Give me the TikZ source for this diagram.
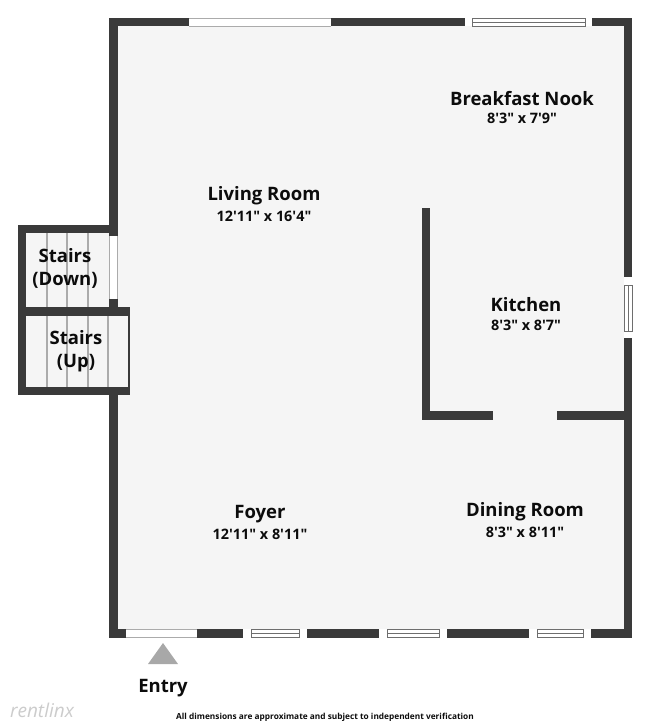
\documentclass[tikz,border=0pt]{standalone}
\usepackage{fontspec}
\newfontfamily\osf{Open Sans}
\definecolor{wallc}{HTML}{3A3A3A}
\definecolor{floorc}{HTML}{F5F5F5}
\definecolor{treadc}{HTML}{ABABAB}
\definecolor{framec}{HTML}{6E6E6E}
\definecolor{inkc}{HTML}{0C0C0C}
\tikzset{
  wall/.style={fill=wallc,draw=none},
  floorpatch/.style={fill=floorc,draw=none},
  opening/.style={fill=white,draw=none},
  tread/.style={draw=treadc,line width=1.1pt},
  sash/.style={draw=framec,line width=1pt,fill=white},
  room/.style={align=center,inner sep=0pt,text=inkc,font=\osf\fontsize{18.5}{23}\selectfont\bfseries},
  dims/.style={inner sep=0pt,text=inkc,font=\osf\fontsize{14.4}{18}\selectfont\bfseries},
}
\begin{document}
\begin{tikzpicture}[x=1pt,y=-1pt]
\useasboundingbox (0,0) rectangle (650,726);
% main shell
\fill[wall] (109,17.5) rectangle (632,638);
\fill[floorpatch] (117.5,26) rectangle (624,629);
% stairs
\fill[wall] (17.5,225) rectangle (117.5,316);
\fill[wall] (17.5,307) rectangle (130,395);
\fill[floorpatch] (26,233) rectangle (109,307);
\fill[floorpatch] (26,316) rectangle (128,387);
\foreach \x in {47,67,88} {
  \draw[tread] (\x,233) -- (\x,307);
  \draw[tread] (\x,316) -- (\x,387);
}
\draw[tread] (108,316) -- (108,387);
\fill[wall] (109,299) rectangle (117.5,307);
\fill[wall] (17.5,307) rectangle (130,316);
% stairs window opening
\fill[opening] (109,236) rectangle (117.5,299);
\draw[draw=treadc,line width=0.8pt] (117.5,236) -- (117.5,299) (109,236) -- (109,299);
% kitchen partition
\fill[wall] (422,208) rectangle (430,420);
\fill[wall] (422,411) rectangle (493,420);
\fill[wall] (557,411) rectangle (624,420);
% top opening
\fill[opening] (189,17.5) rectangle (331,26);
\draw[draw=treadc,line width=1pt] (189,18) -- (331,18) (189,26) -- (331,26);
% top window
\fill[opening] (465,17.5) rectangle (592,26);
\draw[sash] (472,18) rectangle (585,26);
\draw[draw=framec,line width=1pt] (472,22) -- (585,22);
% right window
\fill[opening] (624,277) rectangle (632,338);
\draw[sash] (624,285) rectangle (632,331);
\draw[draw=framec,line width=1pt] (628,285) -- (628,331);
% bottom entry opening
\fill[opening] (126,629) rectangle (197,638);
\draw[draw=treadc,line width=1pt] (126,637.5) -- (197,637.5) (126,629.5) -- (197,629.5);
% bottom windows
\foreach \a/\b/\c/\d in {243/307/251/299,379/447/387/439,529/591/537/583} {
  \fill[opening] (\a,629) rectangle (\b,638);
  \draw[sash] (\c,629.5) rectangle (\d,637.5);
  \draw[draw=framec,line width=1pt] (\c,633.5) -- (\d,633.5);
}
% entry arrow
\fill[fill=black!34] (163,643) -- (178,664) -- (148,664) -- cycle;
% labels
\node[room] (nook) at (522,98.5) {Breakfast Nook};
\node[dims] (nookd) at (522,118.5) {8'3" x 7'9"};
\node[room] (living) at (264,195.5) {Living Room};
\node[dims] (livingd) at (264,216.5) {12'11" x 16'4"};
\node[room] (kitchen) at (526,304.5) {Kitchen};
\node[dims] (kitchend) at (526,325.5) {8'3" x 8'7"};
\node[room] (foyer) at (260,514) {Foyer};
\node[dims] (foyerd) at (260,534.5) {12'11" x 8'11"};
\node[room] (dining) at (525,511.5) {Dining Room};
\node[dims] (diningd) at (525,532.5) {8'3" x 8'11"};
\node[room] (down) at (65,268) {Stairs\\(Down)};
\node[room] (up) at (76,351) {Stairs\\(Up)};
\node[room] (entry) at (163,688) {Entry};
\node[inner sep=0pt,text=black!20,font=\osf\fontsize{19}{22}\selectfont\itshape] (brand) at (42,710) {rentlinx};
\node[inner sep=0pt,text=inkc,font=\osf\fontsize{8.3}{10}\selectfont\bfseries] (note) at (325,717) {All dimensions are approximate and subject to independent verification};
\end{tikzpicture}
\end{document}
